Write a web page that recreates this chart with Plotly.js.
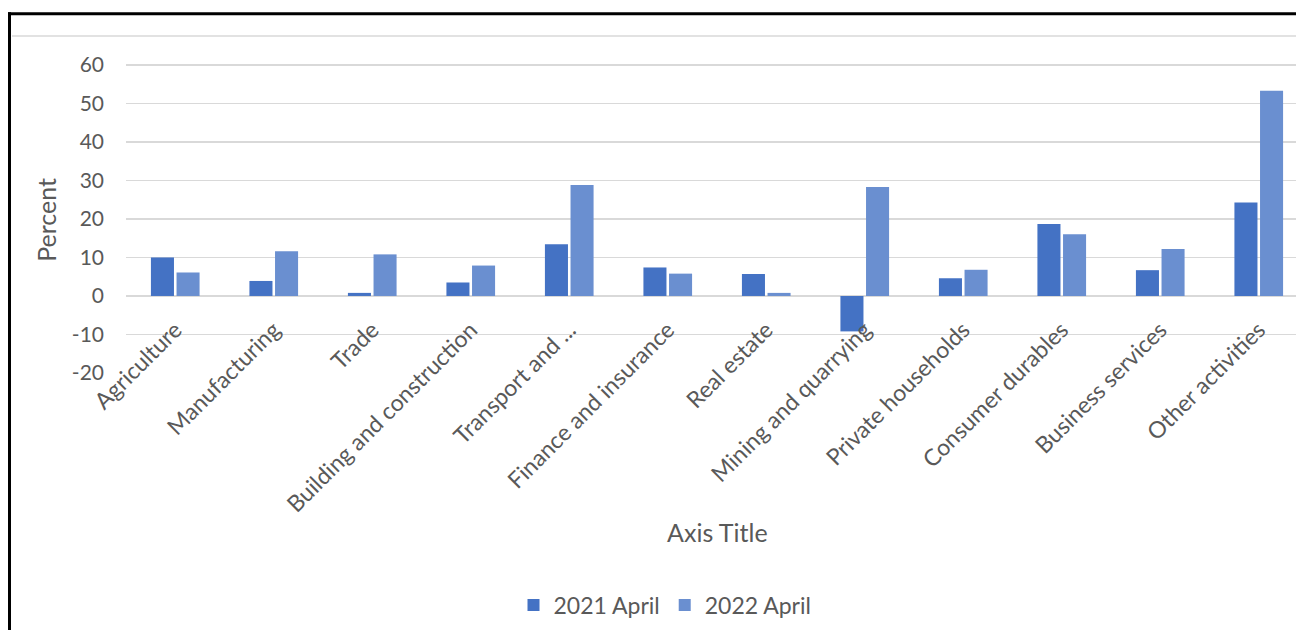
<!DOCTYPE html>
<html>
<head>
<meta charset="utf-8">
<script src="https://cdn.plot.ly/plotly-3.0.1.min.js"></script>
<style>
html,body{margin:0;padding:0;background:#fff;overflow:hidden;width:1296px;height:630px;}
#chart{width:1312px;height:630px;}
</style>
</head>
<body>
<div id="chart"></div>
<script>
var categories = ["Agriculture","Manufacturing","Trade","Building and construction","Transport and ...","Finance and insurance","Real estate","Mining and quarrying","Private households","Consumer durables","Business services","Other activities"];
var series2021 = [10.0, 3.9, 0.8, 3.5, 13.4, 7.4, 5.7, -9.2, 4.6, 18.7, 6.7, 24.3];
var series2022 = [6.1, 11.6, 10.8, 7.9, 28.8, 5.8, 0.8, 28.3, 6.8, 16.0, 12.2, 53.3];
var seriesNames = ["2021 April","2022 April"];
var yTickVals = [-20,-10,0,10,20,30,40,50,60];
var yTickText = ["-20","-10","0","10","20","30","40","50","60"];

var FONT = "Lato, 'Open Sans', sans-serif";
var TXT = "#595959";

var traces = [
  {type:"bar", name:seriesNames[0], x:categories, y:series2021, marker:{color:"#4472C4"}},
  {type:"bar", name:seriesNames[1], x:categories, y:series2022, marker:{color:"#6A8FD0"}}
];

var layout = {
  width:1312, height:630,
  margin:{l:126, r:4, t:36, b:254, pad:0},
  paper_bgcolor:"#ffffff", plot_bgcolor:"#ffffff",
  barmode:"group", bargap:0.48, bargroupgap:0.1,
  font:{family:FONT, color:TXT, size:20},
  showlegend:true,
  legend:{orientation:"h", x:(665-126)/1182, xanchor:"center", y:(376-610)/340, yanchor:"middle",
          font:{family:FONT, size:23, color:TXT}, itemwidth:30, traceorder:"normal"},
  xaxis:{type:"category", anchor:"free", position:20/87.5, showgrid:false, showline:false,
         zeroline:false, ticks:"", tickangle:-45, ticklabelstandoff:15,
         tickfont:{family:FONT, size:23, color:TXT}},
  yaxis:{range:[-20,67.5], tickvals:yTickVals, ticktext:yTickText, showgrid:true, gridcolor:"#d9d9d9", gridwidth:1.5,
         zeroline:false, showline:false, ticks:"", ticklabelstandoff:21,
         tickfont:{family:FONT, size:21, color:TXT}},
  annotations:[
    {text:"Percent", xref:"paper", yref:"paper", x:(46-126)/1182, y:(376-221.5)/340,
     xanchor:"center", yanchor:"middle", textangle:-90, showarrow:false,
     font:{family:FONT, size:25, color:TXT}},
    {text:"Axis Title", xref:"paper", yref:"paper", x:(717-126)/1182, y:(376-536)/340,
     xanchor:"center", yanchor:"middle", showarrow:false,
     font:{family:FONT, size:25, color:TXT}}
  ],
  shapes:[
    {type:"line", xref:"paper", yref:"paper", x0:(12-126)/1182, x1:1.003, y0:1, y1:1,
     line:{color:"#d9d9d9", width:1.5}},
    {type:"line", xref:"paper", yref:"paper", x0:(8-126)/1182, x1:1.01, y0:(376-13.5)/340, y1:(376-13.5)/340,
     line:{color:"#000000", width:3}},
    {type:"line", xref:"paper", yref:"paper", x0:(9.5-126)/1182, x1:(9.5-126)/1182, y0:(376-12)/340, y1:-0.8,
     line:{color:"#000000", width:3}}
  ]
};

Plotly.newPlot("chart", traces, layout, {displayModeBar:false, staticPlot:true});
</script>
</body>
</html>
